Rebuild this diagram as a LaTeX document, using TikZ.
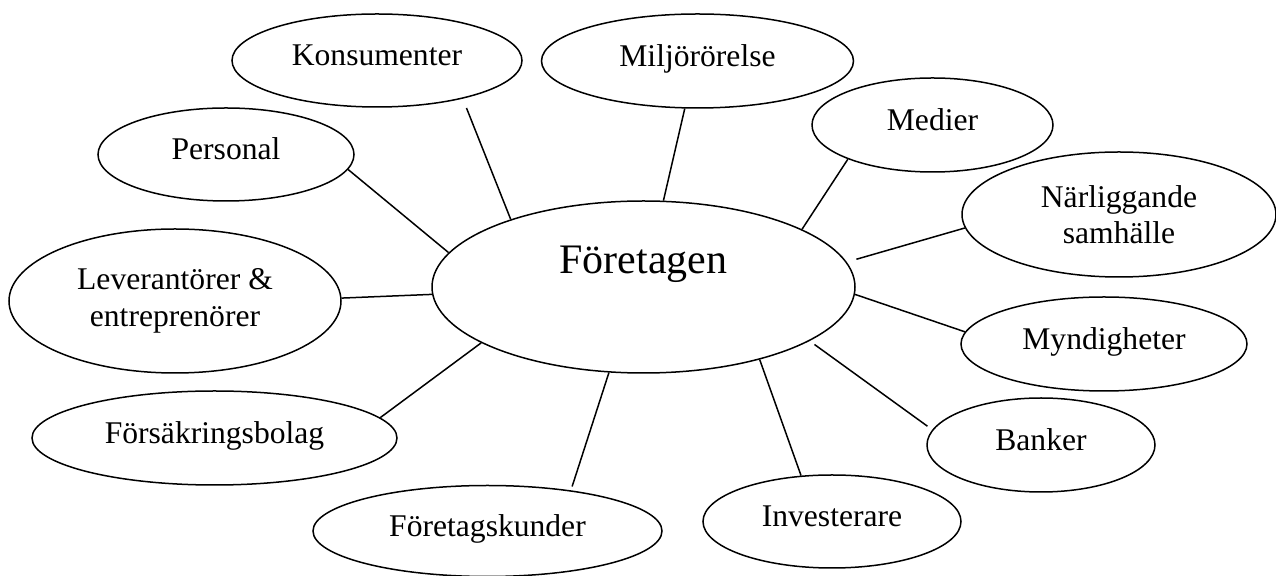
\documentclass[tikz,border=0pt]{standalone}
\usepackage{fontspec}
\setmainfont{Liberation Serif}
\usetikzlibrary{shapes.geometric}

\begin{document}
\begin{tikzpicture}[
  x=0.5pt, y=-0.5pt,
  every node/.style={font=\fontsize{15.8pt}{18.2pt}\selectfont},
  oval/.style={ellipse,draw,line width=0.75pt,inner sep=0pt,align=center},
  one/.style={oval,text height=12pt,text depth=6.5pt},
  hub/.style={oval,font=\fontsize{21pt}{25pt}\selectfont,text height=15pt,text depth=28pt},
  link/.style={line width=0.75pt},
]
\useasboundingbox (0,0) rectangle (1276,576);
% ---- the firm in the middle
\node[hub,minimum width=211.5pt,minimum height=86pt] (foretag) at (643.5,287) {Företagen};
% ---- upper row
\node[one,minimum width=145pt,minimum height=46.5pt] (konsument) at (377,60.5) {Konsumenter};
\node[one,minimum width=156pt,minimum height=47pt] (miljo) at (697.5,61) {Miljörörelse};
\node[one,minimum width=120.5pt,minimum height=47pt] (medier) at (932.5,125) {Medier};
% ---- left side
\node[one,minimum width=128pt,minimum height=46.5pt] (personal) at (226,154.5) {Personal};
\node[oval,minimum width=166pt,minimum height=72pt] (levent) at (175,301) {Leverantörer \&\\entreprenörer};
\node[one,minimum width=182.5pt,minimum height=47pt] (forsak) at (214.5,438) {Försäkringsbolag};
% ---- right side
\node[oval,minimum width=157pt,minimum height=62.5pt] (narsam) at (1119,214.5) {Närliggande\\samhälle};
\node[one,minimum width=143pt,minimum height=47pt] (myndig) at (1104,344) {Myndigheter};
\node[one,minimum width=114pt,minimum height=47pt] (banker) at (1041,445) {Banker};
% ---- lower row
\node[one,minimum width=174.5pt,minimum height=45.5pt] (fkund) at (487.5,531) {Företagskunder};
\node[one,minimum width=129pt,minimum height=46.5pt] (invest) at (832,521.5) {Investerare};
% ---- spokes (some stop short of the ovals, as in the original)
\draw[link,shorten <=5pt] (konsument.-24) -- (foretag.153);
\draw[link] (miljo.-105.5) -- (foretag.77.7);
\draw[link] (medier.-158) -- (foretag.20.2);
\draw[link] (personal.-7) -- (foretag.170.5);
\draw[link] (levent.1.4) -- (foretag.182.7);
\draw[link] (forsak.7.7) -- (foretag.199.9);
\draw[link,shorten >=5pt] (narsam.185.6) -- (foretag.7.8);
\draw[link] (myndig.175.2) -- (foretag.-2.5);
\draw[link,shorten <=3pt,shorten >=3pt] (banker.172) -- (foretag.-18.9);
\draw[link,shorten <=2pt] (fkund.26.3) -- (foretag.248.1);
\draw[link] (invest.124.3) -- (foretag.-32.3);
\end{tikzpicture}
\end{document}
